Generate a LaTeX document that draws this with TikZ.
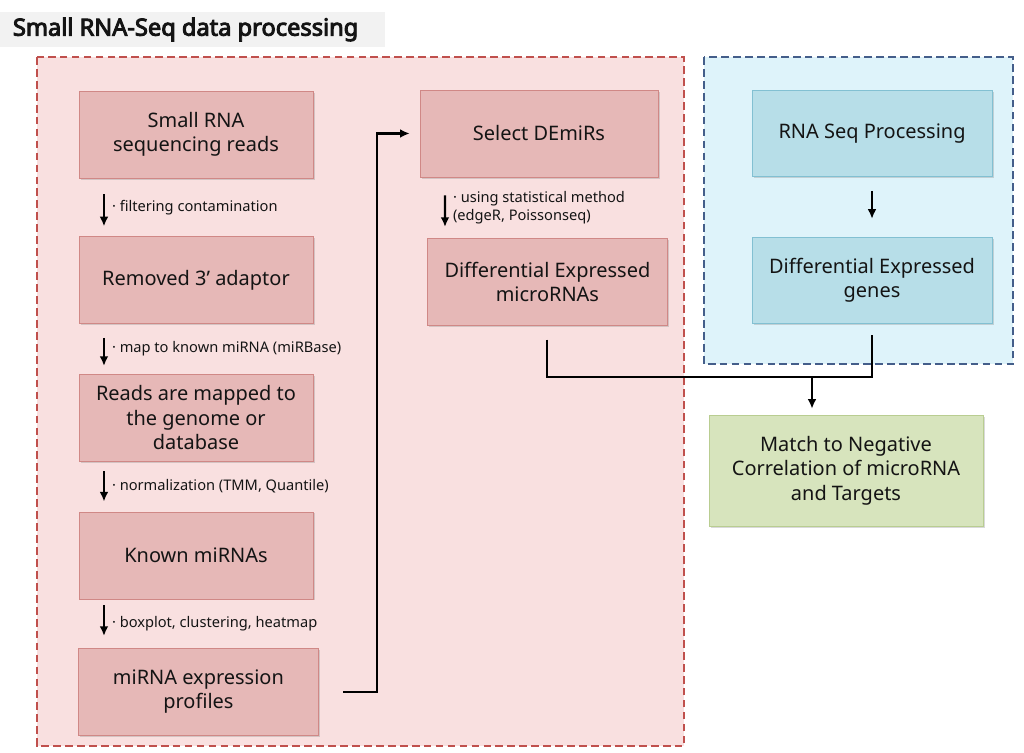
\documentclass[tikz,border=0pt]{standalone}
\usepackage{fontspec}
\setmainfont{Noto Sans}
\newfontfamily\titlefont{Noto Sans}[FakeBold=4]
\usepackage{tikz}
\usetikzlibrary{arrows.meta,positioning,shadows}
\definecolor{pinkbg}{RGB}{249,224,224}
\definecolor{reddash}{RGB}{192,80,77}
\definecolor{redfill}{RGB}{230,184,183}
\definecolor{redline}{RGB}{208,136,134}
\definecolor{bluebg}{RGB}{222,243,250}
\definecolor{bluedash}{RGB}{68,94,138}
\definecolor{bluefill}{RGB}{183,222,232}
\definecolor{blueline}{RGB}{130,192,210}
\definecolor{greenfill}{RGB}{215,228,189}
\definecolor{greenline}{RGB}{185,205,145}
\definecolor{titlebg}{RGB}{242,242,242}

\begin{document}
\begin{tikzpicture}[x=0.025cm, y=-0.025cm, every node/.style={align=center, text=black!92},
    stepshade/.style={drop shadow={shadow xshift=1.2pt, shadow yshift=-1.2pt, opacity=0.3}},
    redbox/.style={draw=redline, fill=redfill, stepshade, minimum width=5.85cm, minimum height=2.175cm, font=\fontsize{14.2}{17.4}\selectfont},
    bluebox/.style={draw=blueline, fill=bluefill, stepshade, minimum width=6cm, minimum height=2.15cm, font=\fontsize{14.2}{17.4}\selectfont},
    greenbox/.style={draw=greenline, fill=greenfill, stepshade, minimum width=6.85cm, minimum height=2.775cm, font=\fontsize{14.2}{17.4}\selectfont},
    region/.style={line width=1.7pt, dash pattern=on 5.5pt off 3pt},
    note/.style={font=\fontsize{10.4}{12.3}\selectfont, align=left, anchor=west, inner sep=2pt},
    arr/.style={-{Latex[length=2.4mm,width=2.2mm]}, line width=1.5pt},
    link/.style={line width=1.3pt}]
    \useasboundingbox (0,0) rectangle (1024,753);

    % title and the two dashed regions
    \fill[titlebg] (0,12) rectangle (385,47);
    \node[anchor=west, font=\fontsize{16.8}{19}\titlefont] (title) at (8,29.5) {Small RNA-Seq data processing};
    \draw[region, draw=reddash, fill=pinkbg] (37,57) rectangle (684,746);
    \draw[region, draw=bluedash, fill=bluebg] (704,57) rectangle (1013,364);

    % small RNA pipeline
    \node[redbox] (srna) at (196,134.5) {Small RNA\\sequencing reads};
    \node[redbox, below=1.45cm of srna] (adaptor) {Removed 3’ adaptor};
    \node[redbox, below=1.25cm of adaptor] (mapped) {Reads are mapped to\\the genome or\\database};
    \node[redbox, below=1.25cm of mapped] (known) {Known miRNAs};
    \node[redbox, minimum width=5.98cm, below=1.22cm of known, xshift=0.06cm] (profiles) {miRNA expression\\profiles};
    \node[redbox, minimum width=5.95cm] (select) at (539,133.5) {Select DEmiRs};
    \node[redbox, minimum width=5.98cm, below=1.52cm of select, xshift=0.21cm] (demir) {Differential Expressed\\microRNAs};

    % RNA-Seq side
    \node[bluebox] (rnaseq) at (872,133.5) {RNA Seq Processing};
    \node[bluebox, below=1.5cm of rnaseq] (degenes) {Differential Expressed\\genes};
    \node[greenbox] (match) at (846,470.5) {Match to Negative\\Correlation of microRNA\\and Targets};
    \coordinate (join) at (812,377);

    \draw[arr, shorten <=0.4cm, shorten >=0.25cm] ([xshift=-2.3cm]srna.south) -- ([xshift=-2.3cm]adaptor.north)
        node[note, midway, xshift=3pt] {· filtering contamination};
    \draw[arr, shorten <=0.35cm, shorten >=0.2cm] ([xshift=-2.3cm]adaptor.south) -- ([xshift=-2.3cm]mapped.north)
        node[note, midway, xshift=3pt] {· map to known miRNA (miRBase)};
    \draw[arr, shorten <=0.25cm, shorten >=0.25cm] ([xshift=-2.3cm]mapped.south) -- ([xshift=-2.3cm]known.north)
        node[note, midway, xshift=3pt] {· normalization (TMM, Quantile)};
    \draw[arr, shorten <=0.15cm, shorten >=0.3cm] ([xshift=-2.3cm]known.south) -- ([xshift=-2.36cm]profiles.north)
        node[note, midway, xshift=3pt] {· boxplot, clustering, heatmap};
    \draw[arr, shorten >=0.25cm] ([xshift=0.625cm]profiles.east) -- ++(34,0) |- (select.west);
    \draw[arr, shorten <=0.45cm, shorten >=0.28cm] ([xshift=-2.35cm]select.south) -- ([xshift=-2.56cm]demir.north)
        node[note, midway, xshift=3pt] {· using statistical method\\(edgeR, Poissonseq)};
    \draw[arr, shorten <=0.35cm, shorten >=0.45cm] (rnaseq) -- (degenes);
    \draw[link] ([yshift=-0.35cm]demir.south) |- (join) -| ([yshift=-0.3cm]degenes.south);
    \draw[arr, shorten >=0.15cm] (join) -- (join |- match.north);
\end{tikzpicture}
\end{document}
